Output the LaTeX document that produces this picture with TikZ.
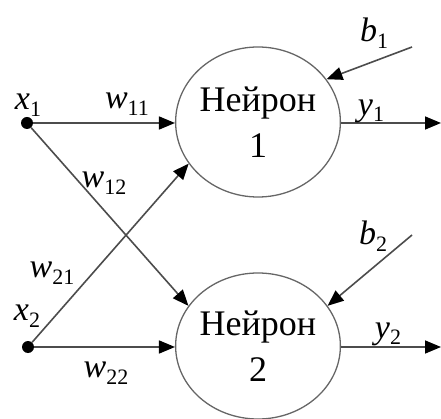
\documentclass[tikz,border=0pt]{standalone}
\usepackage{fontspec}
\setmainfont{Liberation Serif}
\usetikzlibrary{arrows.meta,shapes.geometric}
\newcommand{\lbl}[2]{\textit{#1}\raisebox{-0.2em}{\fontsize{22}{22}\selectfont #2}}
\tikzset{
  neuron/.style={ellipse, draw=black!60, line width=1.3pt, minimum width=153pt, inner sep=0pt,
     align=center, font=\fontsize{36}{46}\selectfont},
  conn/.style={draw=black!70, line width=1.6pt, -{Triangle[length=16pt,width=13pt,color=black]}},
  inp/.style={circle, fill=black, minimum size=12pt, inner sep=0pt},
  wl/.style={font=\fontsize{34}{34}\selectfont, inner sep=0pt}
}
\begin{document}
\begin{tikzpicture}[x=1pt,y=-1pt]
\useasboundingbox (0,0) rectangle (441,419);
\node[neuron, minimum height=150pt] (n1) at (258,122) {Нейрон\\1};
\node[neuron, minimum height=146pt] (n2) at (258,346) {Нейрон\\2};
\node[inp] (x1) at (27,123) {};
\node[inp] (x2) at (28,347) {};
\coordinate (b1s) at (412,47);
\coordinate (b2s) at (412,235);
\coordinate (y1e) at (441,123);
\coordinate (y2e) at (441,347);
\draw[conn] (x1) -- (x1 -| n1.west);
\draw[conn] (x2) -- (x2 -| n2.west);
\draw[conn] (x1) -- (n2.150);
\draw[conn] (x2) -- (n1.211);
\draw[conn] (b1s) -- (n1.32);
\draw[conn] (b2s) -- (n2.30);
\draw[conn] (n1.east |- y1e) -- (y1e);
\draw[conn] (n2.east |- y2e) -- (y2e);
\node[wl] (lx1) at (28,105) {\lbl{x}{1}};
\node[wl] (lw11) at (127,104) {\lbl{w}{11}};
\node[wl] (lw12) at (104,183) {\lbl{w}{12}};
\node[wl] (lw21) at (52,273) {\lbl{w}{21}};
\node[wl] (lx2) at (27,316) {\lbl{x}{2}};
\node[wl] (lw22) at (106,373) {\lbl{w}{22}};
\node[wl] (lb1) at (374,33) {\lbl{b}{1}};
\node[wl] (ly1) at (371,111) {\lbl{y}{1}};
\node[wl] (lb2) at (373,236) {\lbl{b}{2}};
\node[wl] (ly2) at (388,334) {\lbl{y}{2}};
\end{tikzpicture}
\end{document}
